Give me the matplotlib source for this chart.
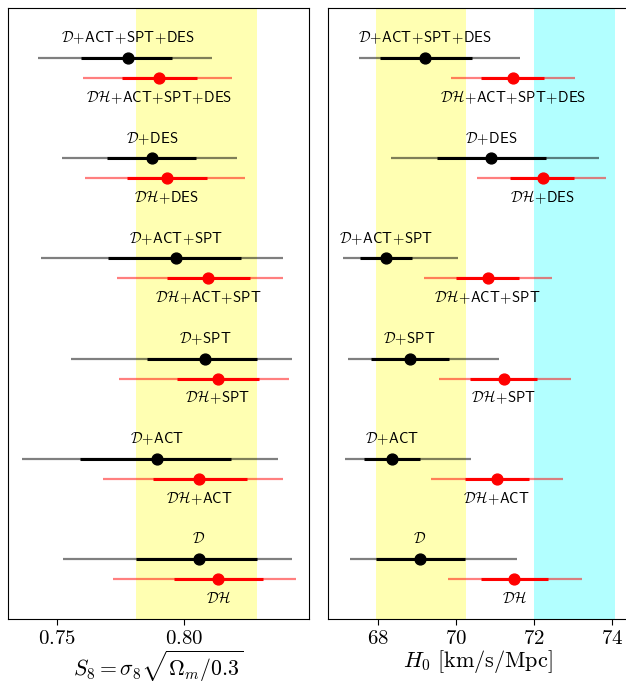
import numpy as np
import matplotlib
matplotlib.use('Agg')
import matplotlib.pyplot as plt

plt.rcParams['mathtext.fontset'] = 'cm'
plt.rcParams['font.family'] = 'serif'
plt.rcParams['font.serif'] = ['DejaVu Serif']

# dataset combinations, top to bottom
combos = ['ACT+SPT+DES', 'DES', 'ACT+SPT', 'SPT', 'ACT', '']

# S8: (2sig lo, 1sig lo, mean, 1sig hi, 2sig hi)
s8_D = [
    [0.7428, 0.7596, 0.7780, 0.7954, 0.8110],
    [0.7520, 0.7697, 0.7874, 0.8048, 0.8211],
    [0.7439, 0.7701, 0.7969, 0.8227, 0.8390],
    [0.7556, 0.7856, 0.8084, 0.8290, 0.8425],
    [0.7363, 0.7592, 0.7896, 0.8185, 0.8372],
    [0.7525, 0.7812, 0.8058, 0.8287, 0.8428],
]
s8_DH = [
    [0.7605, 0.7758, 0.7904, 0.8051, 0.8189],
    [0.7613, 0.7778, 0.7933, 0.8091, 0.8241],
    [0.7739, 0.7933, 0.8097, 0.8261, 0.8390],
    [0.7745, 0.7974, 0.8134, 0.8296, 0.8415],
    [0.7682, 0.7878, 0.8061, 0.8249, 0.8392],
    [0.7723, 0.7961, 0.8136, 0.8311, 0.8441],
]

# H0 in km/s/Mpc, same layout
h0_D = [
    [67.51, 68.04, 69.20, 70.39, 71.62],
    [68.33, 69.51, 70.89, 72.29, 73.66],
    [67.08, 67.53, 68.19, 68.87, 70.05],
    [67.21, 67.81, 68.80, 69.81, 71.10],
    [67.15, 67.64, 68.34, 69.07, 70.37],
    [67.27, 67.94, 69.06, 70.22, 71.56],
]
h0_DH = [
    [69.86, 70.63, 71.45, 72.24, 73.03],
    [70.54, 71.38, 72.21, 73.02, 73.84],
    [69.18, 70.00, 70.80, 71.61, 72.45],
    [69.55, 70.35, 71.22, 72.06, 72.94],
    [69.35, 70.21, 71.03, 71.86, 72.73],
    [69.79, 70.63, 71.49, 72.34, 73.23],
]

s8_band = (0.781, 0.829)
h0_band = (67.93, 70.25)
shoes_band = (72.00, 74.08)


def label(prefix, combo):
    parts = [prefix] + [r'\mathsf{%s}' % c for c in combo.split('+') if c]
    return '$' + r'\,{+}\,'.join(parts).replace(r'\,', r'\hspace{0.05}') + '$'


def whisker(ax, vals, y, color, txt, dy):
    lo2, lo1, mid, hi1, hi2 = vals
    ax.plot([lo2, hi2], [y, y], color=color, alpha=0.5, lw=1.6, solid_capstyle='butt')
    ax.plot([lo1, hi1], [y, y], color=color, lw=2.2, solid_capstyle='butt')
    ax.plot(mid, y, 'o', color=color, ms=7.8)
    ax.text(mid, y + dy, txt, ha='center', va='center', fontsize=10.5)


def panel(ax, dvals, dhvals):
    n = len(combos)
    for i, combo in enumerate(combos):
        k = n - 1 - i
        whisker(ax, dvals[i], k + 0.1, 'black', label(r'\mathcal{D}', combo), 0.2)
        whisker(ax, dhvals[i], k - 0.1, 'red', label(r'\mathcal{DH}', combo), -0.19)
    ax.set_ylim(-0.5, 5.6)
    ax.set_yticks([])
    ax.tick_params(axis='x', labelsize=15, direction='out', length=4)


fig = plt.figure(figsize=(6.26, 6.81), dpi=100)
W, H = 626, 681
ax1 = fig.add_axes([8 / W, 1 - 619 / H, 301 / W, 611 / H])
ax2 = fig.add_axes([327.7 / W, 1 - 619 / H, 301 / W, 611 / H])

ax1.axvspan(*s8_band, color='yellow', alpha=0.3, lw=0)
panel(ax1, s8_D, s8_DH)
ax1.set_xlim(0.7308, 0.8493)
ax1.set_xticks([0.75, 0.80])
ax1.set_xticklabels(['$0.75$', '$0.80$'])
ax1.set_xlabel(r'$S_8 = \sigma_8\sqrt{\Omega_m/0.3}$', fontsize=15.7, labelpad=0)

ax2.axvspan(*h0_band, color='yellow', alpha=0.3, lw=0)
ax2.axvspan(*shoes_band, color='cyan', alpha=0.3, lw=0)
panel(ax2, h0_D, h0_DH)
ax2.set_xlim(66.70, 74.42)
ax2.set_xticks([68, 70, 72, 74])
ax2.set_xticklabels(['$68$', '$70$', '$72$', '$74$'])
ax2.set_xlabel(r'$H_0\ [\mathrm{km/s/Mpc}]$', fontsize=16, labelpad=0)

fig.savefig('out.png', dpi=100)
